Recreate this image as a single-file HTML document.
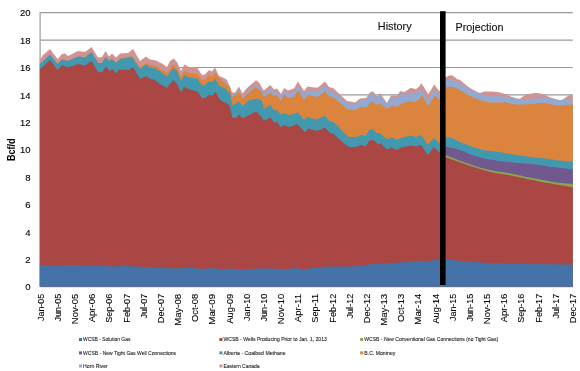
<!DOCTYPE html>
<html><head><meta charset="utf-8"><style>
html,body{margin:0;padding:0;background:#fff;width:580px;height:371px;overflow:hidden}
svg{display:block}
#wrap{will-change:transform;width:580px;height:371px}
text{font-family:"Liberation Sans",sans-serif;fill:#000}
.yl{font-size:9.7px;stroke:#000;stroke-width:0.12px}
.xl{font-size:9.3px;stroke:#000;stroke-width:0.1px}
.ax{font-size:10.2px;font-weight:bold}
.ann{font-size:10.2px;fill:#111;stroke:#111;stroke-width:0.12px}
.lg{font-size:5.3px;fill:#222;stroke:#222;stroke-width:0.1px}
</style></head><body><div id="wrap">
<svg width="580" height="371" viewBox="0 0 580 371">
<rect width="580" height="371" fill="#fff"/>
<line x1="40.7" y1="286.70" x2="572.8" y2="286.70" stroke="#999" stroke-width="1.2"/><line x1="40.7" y1="259.30" x2="572.8" y2="259.30" stroke="#999" stroke-width="1.2"/><line x1="40.7" y1="231.90" x2="572.8" y2="231.90" stroke="#999" stroke-width="1.2"/><line x1="40.7" y1="204.50" x2="572.8" y2="204.50" stroke="#999" stroke-width="1.2"/><line x1="40.7" y1="177.10" x2="572.8" y2="177.10" stroke="#999" stroke-width="1.2"/><line x1="40.7" y1="149.70" x2="572.8" y2="149.70" stroke="#999" stroke-width="1.2"/><line x1="40.7" y1="122.30" x2="572.8" y2="122.30" stroke="#999" stroke-width="1.2"/><line x1="40.7" y1="94.90" x2="572.8" y2="94.90" stroke="#999" stroke-width="1.2"/><line x1="40.7" y1="67.50" x2="572.8" y2="67.50" stroke="#999" stroke-width="1.2"/><line x1="40.7" y1="40.10" x2="572.8" y2="40.10" stroke="#999" stroke-width="1.2"/><line x1="40.7" y1="12.70" x2="572.8" y2="12.70" stroke="#999" stroke-width="1.2"/>
<line x1="40.1" y1="12.2" x2="40.1" y2="286.7" stroke="#9a9a9a" stroke-width="1.2"/>
<polygon points="39.9,286.7 39.9,58.6 40.7,58.6 43.0,55.0 50.0,49.0 57.6,59.0 62.0,54.0 65.0,53.6 68.0,56.0 78.0,51.0 85.0,52.0 91.6,47.0 98.0,57.6 102.0,57.0 105.6,51.0 109.0,56.4 112.0,53.6 116.0,57.6 120.0,53.6 128.0,53.0 133.0,49.0 140.0,61.0 146.0,56.4 150.0,59.6 156.0,60.4 162.0,63.6 167.0,67.0 170.0,61.0 173.6,58.4 177.0,62.0 181.0,71.0 184.4,64.4 189.0,67.0 197.0,67.6 202.0,75.0 205.0,74.4 209.0,70.0 212.0,71.6 215.0,67.6 219.0,76.0 224.0,78.0 227.0,80.0 232.0,92.4 235.0,92.4 239.0,86.4 242.4,93.6 247.0,88.0 256.0,80.2 259.0,82.4 263.6,90.4 270.4,85.0 274.0,89.6 277.0,88.4 281.0,94.0 284.0,88.0 288.0,90.4 294.0,88.4 298.0,81.6 304.0,91.0 307.6,86.4 314.0,87.6 318.0,87.6 325.0,81.6 329.0,87.0 333.0,88.0 340.0,94.4 347.0,101.0 350.0,101.6 355.0,102.4 360.0,98.6 366.2,98.1 369.8,92.4 372.9,91.2 377.1,96.6 380.2,93.2 386.9,103.0 391.0,95.5 397.2,95.5 400.3,90.9 404.5,91.9 410.7,87.8 415.9,89.3 419.5,86.2 421.3,83.1 428.3,94.2 434.2,84.5 439.1,91.0 443.0,88.0 443.0,286.7" fill="#D19392"/><polygon points="39.9,286.7 39.9,63.4 40.7,63.4 50.0,54.4 57.6,64.0 62.0,59.4 68.0,61.0 78.0,56.4 85.0,57.6 91.6,52.0 98.0,63.0 102.0,63.0 105.6,57.0 109.0,61.0 112.0,59.0 116.0,63.0 120.0,58.4 132.0,56.0 140.0,67.6 146.0,63.2 150.0,65.0 156.0,66.0 162.0,70.0 167.0,73.0 173.0,64.4 177.0,68.0 181.0,77.0 184.4,71.0 189.0,73.0 197.0,74.0 202.0,80.0 206.0,79.0 209.0,75.0 212.0,77.0 215.0,72.4 220.0,80.0 226.0,83.0 230.0,86.4 232.0,95.0 239.0,90.0 242.4,97.0 256.0,84.0 263.6,93.6 270.4,88.0 274.0,92.4 277.0,92.0 281.0,97.0 284.0,91.0 288.0,93.0 294.0,92.0 298.0,85.6 304.0,94.4 307.6,90.4 318.0,91.0 325.0,85.6 329.0,90.4 333.0,91.6 340.0,97.0 347.0,103.6 355.0,104.4 360.0,100.2 366.2,99.4 369.8,94.5 372.9,92.9 377.1,97.8 379.7,95.0 386.9,104.3 391.0,97.1 397.2,99.1 400.3,93.4 405.5,95.0 410.7,92.5 415.9,93.5 419.5,89.5 421.3,88.9 428.3,100.2 434.2,89.4 439.1,95.3 443.0,93.0 443.0,286.7" fill="#93A9CF"/><polygon points="39.9,286.7 39.9,63.4 40.7,63.4 50.0,54.4 57.6,64.0 62.0,59.4 68.0,61.0 78.0,56.4 85.0,57.6 91.6,52.0 98.0,63.0 102.0,63.0 105.6,57.0 109.0,61.0 112.0,59.0 116.0,63.0 120.0,58.4 132.0,56.0 140.0,67.6 146.0,63.2 150.0,65.0 156.0,66.0 162.0,70.0 167.0,73.0 173.0,64.4 177.0,68.0 181.0,77.0 184.4,71.0 189.0,73.0 197.0,74.0 202.0,80.0 206.0,79.0 209.0,75.0 212.0,77.0 215.0,72.6 222.0,81.0 230.0,87.0 232.4,97.5 239.0,91.5 242.4,98.5 256.0,86.7 262.0,92.4 263.6,97.0 270.4,92.4 274.0,96.0 277.0,95.6 281.0,101.0 284.0,94.4 288.0,98.0 294.0,97.0 298.0,90.4 304.0,100.0 307.6,95.0 318.0,97.0 325.0,91.0 329.0,96.4 333.0,97.0 340.0,102.4 347.0,109.0 355.0,110.4 360.0,107.1 366.2,107.7 371.9,101.2 376.6,105.0 380.2,103.3 387.4,109.0 393.1,104.8 396.7,107.1 401.4,103.6 409.7,101.2 415.9,102.2 420.0,98.1 421.9,95.3 428.3,106.6 434.8,95.6 439.1,99.6 443.0,99.0 443.0,286.7" fill="#DB843D"/><polygon points="39.9,286.7 39.9,63.4 40.7,63.4 50.0,54.4 57.6,64.0 62.0,59.4 68.0,61.0 78.0,56.4 85.0,57.6 91.6,52.0 98.0,63.0 102.0,63.0 105.6,57.0 109.0,61.0 112.0,59.0 116.0,63.0 120.0,59.0 132.0,57.0 140.0,69.0 146.0,64.5 150.0,67.5 156.0,68.5 162.0,73.0 167.0,76.5 173.0,68.0 177.0,71.0 181.0,81.0 184.4,75.0 189.0,77.5 197.0,78.5 202.0,85.6 206.0,84.4 209.0,81.0 212.0,82.4 215.0,78.4 219.0,85.5 226.0,89.0 228.0,92.0 230.0,93.0 232.4,105.7 239.0,101.5 242.4,106.2 248.6,100.5 257.0,98.4 262.0,100.5 263.6,109.0 270.4,105.0 274.0,110.4 277.0,110.0 281.0,115.0 284.0,112.7 288.0,115.0 294.0,114.0 298.0,112.2 304.0,120.0 307.6,117.0 316.0,119.8 325.0,115.8 329.0,121.0 333.0,121.8 338.0,126.0 344.0,133.0 349.0,137.0 356.0,137.0 361.0,135.0 365.6,136.0 369.0,130.0 373.0,129.0 377.0,133.6 380.0,133.0 387.0,139.6 392.0,137.0 397.0,140.0 401.0,138.0 411.0,135.6 416.0,137.0 421.0,135.0 428.0,145.0 434.0,138.0 439.0,143.0 443.0,141.0 443.0,286.7" fill="#4198AF"/><polygon points="39.9,286.7 39.9,68.7 40.7,68.7 50.0,60.0 57.6,70.0 62.0,65.0 68.0,67.6 78.0,64.0 85.0,65.6 91.6,61.0 98.0,72.0 102.0,72.4 105.6,66.4 110.0,71.0 112.0,69.0 116.0,73.6 119.0,69.6 129.0,70.0 133.0,67.0 140.0,79.0 146.0,76.2 152.0,79.5 154.0,79.6 160.0,84.0 167.0,88.0 173.0,80.0 177.0,84.0 181.0,92.4 184.0,87.0 189.0,89.0 198.0,92.0 202.0,98.4 206.0,97.6 209.6,94.4 212.0,96.0 215.6,92.0 220.0,100.0 226.0,103.0 228.0,104.0 229.6,106.0 232.4,118.0 237.0,117.6 239.0,114.4 243.0,118.4 250.0,114.4 256.0,111.5 262.0,117.6 263.6,121.0 270.4,117.6 274.0,122.4 277.0,122.0 281.0,127.6 284.0,125.0 289.0,127.0 293.0,126.0 297.0,124.0 305.0,132.0 308.4,128.4 317.0,131.0 325.0,127.6 330.0,133.0 333.0,133.6 338.0,138.0 344.0,143.6 349.0,147.0 356.0,147.0 361.0,145.0 365.6,146.4 370.0,140.0 374.0,140.4 378.0,144.0 381.0,143.6 387.0,149.6 392.0,147.6 397.0,150.0 401.0,147.6 411.0,145.6 416.0,146.4 421.0,145.0 428.0,155.0 434.0,147.0 439.0,152.4 443.0,150.0 443.0,286.7" fill="#AA4643"/><polygon points="443.0,286.7 443.0,77.0 443.4,77.0 443.9,77.0 444.5,77.0 445.1,77.1 445.6,77.0 446.1,77.0 446.4,76.9 446.6,76.8 446.8,76.7 447.0,76.5 447.3,76.4 447.6,76.2 448.1,76.0 448.7,75.8 449.3,75.6 449.9,75.4 450.6,75.2 451.1,75.2 451.6,75.2 451.9,75.4 452.3,75.5 452.7,75.7 453.0,76.0 453.5,76.3 454.0,76.7 454.6,77.1 455.2,77.6 455.8,78.1 456.4,78.5 457.0,78.9 457.6,79.2 458.1,79.4 458.7,79.6 459.3,79.8 459.9,80.1 460.6,80.5 461.3,81.0 462.0,81.7 462.8,82.3 463.6,83.1 464.5,83.8 465.4,84.6 466.5,85.4 467.6,86.2 468.8,87.0 470.0,87.9 471.3,88.7 472.5,89.4 473.7,90.1 475.0,90.8 476.2,91.5 477.4,92.1 478.6,92.6 479.6,92.9 480.5,92.9 481.3,92.7 482.0,92.4 482.6,92.0 483.4,91.7 484.3,91.5 485.3,91.4 486.5,91.4 487.7,91.4 488.9,91.4 490.2,91.4 491.4,91.5 492.6,91.6 493.9,91.7 495.1,91.8 496.4,92.0 497.5,92.1 498.6,92.3 499.6,92.5 500.4,92.7 501.2,92.9 502.0,93.1 502.7,93.3 503.3,93.5 503.8,93.7 504.2,93.8 504.6,93.9 504.9,94.1 505.4,94.3 506.0,94.5 506.8,94.8 507.7,95.2 508.7,95.6 509.8,96.1 510.9,96.5 512.0,96.9 513.2,97.3 514.4,97.7 515.6,98.2 516.9,98.5 518.1,98.7 519.3,98.7 520.3,98.4 521.3,97.8 522.1,97.1 523.1,96.4 524.1,95.7 525.3,95.1 526.7,94.6 528.4,94.2 530.1,93.8 531.8,93.4 533.5,93.2 535.0,93.0 536.4,93.0 537.7,93.0 538.9,93.2 540.1,93.4 541.2,93.6 542.2,93.9 543.1,94.2 543.9,94.5 544.6,94.8 545.3,95.2 546.1,95.6 547.0,96.0 548.1,96.4 549.3,96.9 550.5,97.4 551.8,97.9 553.1,98.3 554.3,98.7 555.5,99.0 556.8,99.4 558.1,99.7 559.3,99.9 560.4,100.0 561.5,99.9 562.5,99.6 563.3,99.2 564.1,98.6 564.9,98.0 565.6,97.4 566.3,96.9 567.0,96.5 567.6,96.2 568.3,95.8 568.9,95.6 569.4,95.3 570.0,95.1 570.6,94.9 571.1,94.8 571.6,94.8 572.1,94.8 572.5,94.7 572.8,94.7 572.8,286.7" fill="#D19392"/><polygon points="443.0,286.7 443.0,80.5 443.3,80.5 443.8,80.5 444.4,80.5 445.0,80.5 445.6,80.5 446.1,80.5 446.6,80.4 447.0,80.3 447.4,80.2 447.9,80.1 448.3,80.0 448.7,79.9 449.1,79.8 449.4,79.7 449.8,79.6 450.1,79.6 450.6,79.5 451.1,79.6 451.8,79.7 452.5,79.9 453.4,80.1 454.2,80.4 455.1,80.7 455.9,81.0 456.7,81.4 457.4,81.8 458.1,82.3 458.9,82.9 459.7,83.4 460.6,84.0 461.6,84.6 462.8,85.3 464.0,86.1 465.2,86.8 466.5,87.5 467.7,88.2 468.9,88.8 470.2,89.5 471.4,90.1 472.6,90.7 473.7,91.2 474.8,91.7 475.7,92.1 476.5,92.4 477.3,92.7 478.0,92.9 478.8,93.2 479.6,93.5 480.5,93.8 481.5,94.2 482.5,94.6 483.5,94.9 484.5,95.2 485.5,95.5 486.5,95.7 487.5,95.9 488.4,96.0 489.4,96.1 490.4,96.1 491.4,96.2 492.4,96.2 493.4,96.2 494.4,96.2 495.4,96.2 496.4,96.2 497.4,96.2 498.4,96.2 499.5,96.2 500.6,96.3 501.6,96.3 502.5,96.4 503.3,96.4 503.9,96.4 504.3,96.5 504.6,96.5 504.9,96.5 505.3,96.6 506.0,96.7 506.9,96.8 508.1,97.0 509.3,97.2 510.6,97.5 511.9,97.7 513.2,97.9 514.4,98.1 515.5,98.4 516.7,98.6 517.9,98.8 519.1,99.0 520.5,99.1 521.9,99.1 523.4,99.1 525.0,99.0 526.6,98.9 528.3,98.8 530.1,98.7 532.1,98.6 534.2,98.4 536.5,98.3 538.6,98.1 540.6,98.0 542.2,97.9 543.4,97.9 544.2,97.8 544.9,97.9 545.5,97.9 546.1,98.0 547.0,98.1 548.1,98.3 549.3,98.5 550.5,98.8 551.8,99.1 553.1,99.4 554.3,99.6 555.5,99.7 556.6,99.8 557.6,99.9 558.8,99.9 560.1,99.9 561.5,99.9 563.3,99.8 565.4,99.7 567.6,99.5 569.7,99.3 571.5,99.2 572.8,99.1 572.8,286.7" fill="#93A9CF"/><polygon points="443.0,286.7 443.0,87.5 443.3,87.5 443.8,87.5 444.3,87.5 444.9,87.6 445.5,87.5 446.1,87.5 446.7,87.4 447.3,87.2 448.0,87.1 448.6,86.9 449.3,86.8 449.9,86.7 450.5,86.7 451.1,86.7 451.6,86.8 452.2,86.9 452.8,87.0 453.5,87.2 454.2,87.5 455.0,87.8 455.8,88.2 456.6,88.6 457.4,89.0 458.2,89.4 459.0,89.8 459.8,90.1 460.6,90.5 461.4,90.9 462.2,91.3 463.0,91.7 463.8,92.2 464.5,92.6 465.3,93.2 466.0,93.7 466.8,94.2 467.7,94.7 468.6,95.2 469.6,95.7 470.6,96.2 471.7,96.8 472.7,97.2 473.7,97.7 474.7,98.1 475.7,98.5 476.7,98.9 477.6,99.3 478.6,99.7 479.6,100.0 480.6,100.3 481.6,100.7 482.6,101.0 483.5,101.3 484.5,101.6 485.5,101.8 486.5,102.0 487.5,102.2 488.4,102.3 489.4,102.4 490.4,102.5 491.4,102.6 492.4,102.6 493.4,102.7 494.5,102.7 495.5,102.6 496.5,102.6 497.4,102.6 498.3,102.6 499.1,102.5 499.9,102.5 500.6,102.5 501.4,102.4 502.1,102.4 502.8,102.4 503.3,102.4 503.9,102.3 504.5,102.3 505.2,102.4 506.0,102.5 507.0,102.7 508.2,103.0 509.4,103.3 510.7,103.6 512.0,103.9 513.2,104.1 514.4,104.3 515.5,104.4 516.7,104.5 517.9,104.6 519.1,104.7 520.5,104.7 521.9,104.7 523.4,104.6 525.0,104.5 526.6,104.4 528.3,104.2 530.1,104.1 532.1,103.9 534.2,103.7 536.5,103.4 538.6,103.2 540.6,103.0 542.2,102.9 543.4,102.9 544.2,102.9 544.9,103.0 545.5,103.2 546.1,103.3 547.0,103.5 548.1,103.7 549.3,104.0 550.5,104.3 551.8,104.6 553.1,104.9 554.3,105.1 555.5,105.2 556.6,105.3 557.6,105.4 558.8,105.4 560.1,105.4 561.5,105.3 563.3,105.2 565.4,105.0 567.6,104.7 569.7,104.5 571.5,104.2 572.8,104.1 572.8,286.7" fill="#DB843D"/><polygon points="443.0,286.7 443.0,137.3 443.2,137.3 443.5,137.3 443.9,137.3 444.4,137.2 444.9,137.3 445.6,137.3 446.4,137.4 447.4,137.4 448.5,137.5 449.6,137.6 450.8,137.8 452.0,138.1 453.3,138.6 454.6,139.2 456.0,140.0 457.4,140.7 458.8,141.4 460.2,142.1 461.6,142.7 462.9,143.2 464.3,143.7 465.6,144.2 467.0,144.7 468.3,145.2 469.7,145.7 471.0,146.2 472.4,146.7 473.7,147.1 475.1,147.6 476.4,148.0 477.7,148.4 478.9,148.8 480.1,149.2 481.4,149.5 482.9,149.9 484.5,150.2 486.4,150.5 488.5,150.8 490.8,151.0 493.1,151.3 495.3,151.5 497.4,151.8 499.2,152.1 500.9,152.4 502.5,152.6 504.1,152.9 505.9,153.3 508.0,153.6 510.4,154.0 513.0,154.4 515.8,154.9 518.6,155.4 521.4,155.8 524.2,156.2 527.0,156.6 529.8,156.9 532.7,157.2 535.5,157.6 538.1,157.8 540.4,158.1 542.4,158.3 544.2,158.5 545.9,158.6 547.4,158.8 548.7,158.9 550.1,159.1 551.2,159.3 552.1,159.4 552.9,159.6 553.8,159.8 554.9,160.0 556.5,160.2 558.8,160.5 561.8,160.8 565.0,161.1 568.2,161.4 570.9,161.6 572.8,161.8 572.8,286.7" fill="#4198AF"/><polygon points="443.0,286.7 443.0,146.5 443.1,146.5 443.2,146.4 443.4,146.3 443.7,146.2 444.4,146.3 445.6,146.5 447.3,146.9 449.5,147.4 452.1,148.0 454.8,148.6 457.5,149.4 460.2,150.2 462.8,151.1 465.5,152.2 468.2,153.4 470.9,154.5 473.7,155.6 476.4,156.5 479.1,157.2 481.8,157.9 484.5,158.5 487.2,159.0 489.9,159.4 492.5,159.9 495.1,160.3 497.7,160.7 500.2,161.1 502.8,161.4 505.4,161.7 508.0,162.0 510.7,162.3 513.3,162.5 516.1,162.8 518.8,163.0 521.5,163.3 524.2,163.5 527.0,163.8 529.8,164.0 532.7,164.3 535.5,164.6 538.1,164.8 540.4,165.1 542.4,165.4 544.2,165.7 545.9,165.9 547.4,166.2 548.7,166.5 550.1,166.7 551.2,166.9 552.1,167.0 552.9,167.1 553.8,167.2 554.9,167.3 556.5,167.5 558.8,167.8 561.8,168.1 565.0,168.5 568.2,168.9 570.9,169.2 572.8,169.4 572.8,286.7" fill="#71588F"/><polygon points="443.0,286.7 443.0,155.1 443.1,155.0 443.2,154.9 443.4,154.7 443.7,154.7 444.4,154.8 445.6,155.1 447.3,155.7 449.5,156.5 452.1,157.5 454.8,158.6 457.5,159.7 460.2,160.7 462.8,161.7 465.5,162.7 468.2,163.6 470.9,164.6 473.7,165.5 476.4,166.4 479.1,167.2 481.8,167.9 484.5,168.7 487.2,169.3 489.9,169.9 492.5,170.5 495.1,171.0 497.7,171.4 500.2,171.7 502.8,172.1 505.4,172.5 508.0,172.9 510.7,173.4 513.3,174.0 516.1,174.6 518.8,175.2 521.5,175.8 524.2,176.4 526.9,177.0 529.6,177.5 532.3,178.0 535.0,178.6 537.7,179.1 540.4,179.6 543.1,180.1 545.8,180.6 548.4,181.1 551.1,181.6 553.8,182.0 556.5,182.4 559.4,182.8 562.5,183.1 565.7,183.4 568.6,183.6 571.0,183.8 572.8,184.0 572.8,286.7" fill="#89A54E"/><polygon points="443.0,286.7 443.0,157.2 443.1,157.1 443.2,157.0 443.4,156.9 443.7,156.8 444.4,156.9 445.6,157.2 447.3,157.8 449.5,158.5 452.1,159.4 454.8,160.4 457.5,161.4 460.2,162.4 462.8,163.3 465.5,164.3 468.2,165.3 470.9,166.2 473.7,167.1 476.4,168.0 479.1,168.8 481.8,169.6 484.5,170.4 487.2,171.1 489.9,171.8 492.5,172.4 495.1,172.9 497.7,173.4 500.2,173.8 502.8,174.1 505.4,174.5 508.0,175.0 510.7,175.5 513.3,176.0 516.1,176.6 518.8,177.2 521.5,177.7 524.2,178.3 526.9,178.9 529.6,179.4 532.3,180.0 535.0,180.6 537.7,181.2 540.4,181.7 543.1,182.2 545.8,182.7 548.4,183.1 551.1,183.6 553.8,184.0 556.5,184.5 559.4,185.0 562.5,185.5 565.7,186.0 568.6,186.5 571.0,186.9 572.8,187.2 572.8,286.7" fill="#AA4643"/><polygon points="39.9,286.7 39.9,265.0 40.7,265.0 56.0,265.6 66.0,265.0 76.0,265.0 96.0,266.0 104.0,265.2 108.0,266.4 126.0,266.0 146.0,267.0 156.0,267.6 176.0,268.4 190.0,267.6 202.0,269.0 214.0,268.0 220.0,269.4 228.0,268.4 244.0,269.6 256.0,268.4 270.0,268.4 286.0,269.0 297.0,268.0 302.0,269.4 316.0,267.6 326.0,266.4 352.0,266.4 362.0,265.6 374.0,264.0 392.0,263.0 406.0,262.0 421.0,260.4 426.0,262.0 435.0,259.6 440.0,260.0 446.0,259.6 462.0,261.0 482.0,262.4 488.0,263.0 524.0,264.0 572.8,264.6 572.8,286.7" fill="#4572A7"/>
<rect x="440" y="11.2" width="5.6" height="273.8" fill="#000"/>
<text x="377.8" y="29.8" class="ann" textLength="33.8" lengthAdjust="spacingAndGlyphs">History</text>
<text x="455.5" y="30.6" class="ann" textLength="47.9" lengthAdjust="spacingAndGlyphs">Projection</text>
<text x="30.6" y="290.40" text-anchor="end" class="yl" textLength="5.3" lengthAdjust="spacingAndGlyphs">0</text><text x="30.6" y="263.00" text-anchor="end" class="yl" textLength="5.3" lengthAdjust="spacingAndGlyphs">2</text><text x="30.6" y="235.60" text-anchor="end" class="yl" textLength="5.3" lengthAdjust="spacingAndGlyphs">4</text><text x="30.6" y="208.20" text-anchor="end" class="yl" textLength="5.3" lengthAdjust="spacingAndGlyphs">6</text><text x="30.6" y="180.80" text-anchor="end" class="yl" textLength="5.3" lengthAdjust="spacingAndGlyphs">8</text><text x="30.6" y="153.40" text-anchor="end" class="yl" textLength="10.5" lengthAdjust="spacingAndGlyphs">10</text><text x="30.6" y="126.00" text-anchor="end" class="yl" textLength="10.5" lengthAdjust="spacingAndGlyphs">12</text><text x="30.6" y="98.60" text-anchor="end" class="yl" textLength="10.5" lengthAdjust="spacingAndGlyphs">14</text><text x="30.6" y="71.20" text-anchor="end" class="yl" textLength="10.5" lengthAdjust="spacingAndGlyphs">16</text><text x="30.6" y="43.80" text-anchor="end" class="yl" textLength="10.5" lengthAdjust="spacingAndGlyphs">18</text><text x="30.6" y="16.40" text-anchor="end" class="yl" textLength="10.5" lengthAdjust="spacingAndGlyphs">20</text>
<text transform="translate(14.9,149.8) rotate(-90)" text-anchor="middle" class="ax" textLength="22.6" lengthAdjust="spacingAndGlyphs">Bcf/d</text>
<text transform="translate(43.80,293.8) rotate(-90)" text-anchor="end" class="xl" textLength="27.22" lengthAdjust="spacingAndGlyphs">Jan-05</text><text transform="translate(60.96,293.8) rotate(-90)" text-anchor="end" class="xl" textLength="27.70" lengthAdjust="spacingAndGlyphs">Jun-05</text><text transform="translate(78.13,293.8) rotate(-90)" text-anchor="end" class="xl" textLength="30.33" lengthAdjust="spacingAndGlyphs">Nov-05</text><text transform="translate(95.29,293.8) rotate(-90)" text-anchor="end" class="xl" textLength="28.56" lengthAdjust="spacingAndGlyphs">Apr-06</text><text transform="translate(112.46,293.8) rotate(-90)" text-anchor="end" class="xl" textLength="28.86" lengthAdjust="spacingAndGlyphs">Sep-06</text><text transform="translate(129.62,293.8) rotate(-90)" text-anchor="end" class="xl" textLength="28.86" lengthAdjust="spacingAndGlyphs">Feb-07</text><text transform="translate(146.79,293.8) rotate(-90)" text-anchor="end" class="xl" textLength="24.65" lengthAdjust="spacingAndGlyphs">Jul-07</text><text transform="translate(163.95,293.8) rotate(-90)" text-anchor="end" class="xl" textLength="29.42" lengthAdjust="spacingAndGlyphs">Dec-07</text><text transform="translate(181.12,293.8) rotate(-90)" text-anchor="end" class="xl" textLength="32.00" lengthAdjust="spacingAndGlyphs">May-08</text><text transform="translate(198.28,293.8) rotate(-90)" text-anchor="end" class="xl" textLength="28.22" lengthAdjust="spacingAndGlyphs">Oct-08</text><text transform="translate(215.45,293.8) rotate(-90)" text-anchor="end" class="xl" textLength="30.93" lengthAdjust="spacingAndGlyphs">Mar-09</text><text transform="translate(232.61,293.8) rotate(-90)" text-anchor="end" class="xl" textLength="29.82" lengthAdjust="spacingAndGlyphs">Aug-09</text><text transform="translate(249.77,293.8) rotate(-90)" text-anchor="end" class="xl" textLength="27.22" lengthAdjust="spacingAndGlyphs">Jan-10</text><text transform="translate(266.94,293.8) rotate(-90)" text-anchor="end" class="xl" textLength="27.70" lengthAdjust="spacingAndGlyphs">Jun-10</text><text transform="translate(284.10,293.8) rotate(-90)" text-anchor="end" class="xl" textLength="30.33" lengthAdjust="spacingAndGlyphs">Nov-10</text><text transform="translate(301.27,293.8) rotate(-90)" text-anchor="end" class="xl" textLength="28.56" lengthAdjust="spacingAndGlyphs">Apr-11</text><text transform="translate(318.43,293.8) rotate(-90)" text-anchor="end" class="xl" textLength="28.86" lengthAdjust="spacingAndGlyphs">Sep-11</text><text transform="translate(335.60,293.8) rotate(-90)" text-anchor="end" class="xl" textLength="28.86" lengthAdjust="spacingAndGlyphs">Feb-12</text><text transform="translate(352.76,293.8) rotate(-90)" text-anchor="end" class="xl" textLength="24.65" lengthAdjust="spacingAndGlyphs">Jul-12</text><text transform="translate(369.93,293.8) rotate(-90)" text-anchor="end" class="xl" textLength="29.42" lengthAdjust="spacingAndGlyphs">Dec-12</text><text transform="translate(387.09,293.8) rotate(-90)" text-anchor="end" class="xl" textLength="32.00" lengthAdjust="spacingAndGlyphs">May-13</text><text transform="translate(404.25,293.8) rotate(-90)" text-anchor="end" class="xl" textLength="28.22" lengthAdjust="spacingAndGlyphs">Oct-13</text><text transform="translate(421.42,293.8) rotate(-90)" text-anchor="end" class="xl" textLength="30.93" lengthAdjust="spacingAndGlyphs">Mar-14</text><text transform="translate(438.58,293.8) rotate(-90)" text-anchor="end" class="xl" textLength="29.82" lengthAdjust="spacingAndGlyphs">Aug-14</text><text transform="translate(455.75,293.8) rotate(-90)" text-anchor="end" class="xl" textLength="27.22" lengthAdjust="spacingAndGlyphs">Jan-15</text><text transform="translate(472.91,293.8) rotate(-90)" text-anchor="end" class="xl" textLength="27.70" lengthAdjust="spacingAndGlyphs">Jun-15</text><text transform="translate(490.08,293.8) rotate(-90)" text-anchor="end" class="xl" textLength="30.33" lengthAdjust="spacingAndGlyphs">Nov-15</text><text transform="translate(507.24,293.8) rotate(-90)" text-anchor="end" class="xl" textLength="28.56" lengthAdjust="spacingAndGlyphs">Apr-16</text><text transform="translate(524.41,293.8) rotate(-90)" text-anchor="end" class="xl" textLength="28.86" lengthAdjust="spacingAndGlyphs">Sep-16</text><text transform="translate(541.57,293.8) rotate(-90)" text-anchor="end" class="xl" textLength="28.86" lengthAdjust="spacingAndGlyphs">Feb-17</text><text transform="translate(558.74,293.8) rotate(-90)" text-anchor="end" class="xl" textLength="24.65" lengthAdjust="spacingAndGlyphs">Jul-17</text><text transform="translate(575.90,293.8) rotate(-90)" text-anchor="end" class="xl" textLength="29.42" lengthAdjust="spacingAndGlyphs">Dec-17</text>
<rect x="79.0" y="338.0" width="3" height="3" fill="#4572A7"/><text x="83.1" y="341.2" class="lg" textLength="47.3" lengthAdjust="spacingAndGlyphs">WCSB - Solution Gas</text><rect x="219.4" y="338.0" width="3" height="3" fill="#AA4643"/><text x="223.5" y="341.2" class="lg" textLength="103.3" lengthAdjust="spacingAndGlyphs">WCSB - Wells Producing Prior to Jan. 1, 2013</text><rect x="360.2" y="338.0" width="3" height="3" fill="#89A54E"/><text x="364.3" y="341.2" class="lg" textLength="133.8" lengthAdjust="spacingAndGlyphs">WCSB - New Conventional Gas Connections (no Tight Gas)</text><rect x="79.0" y="351.4" width="3" height="3" fill="#71588F"/><text x="83.1" y="354.6" class="lg" textLength="93.0" lengthAdjust="spacingAndGlyphs">WCSB - New Tight Gas Well Connections</text><rect x="219.4" y="351.4" width="3" height="3" fill="#4198AF"/><text x="223.5" y="354.6" class="lg" textLength="62.1" lengthAdjust="spacingAndGlyphs">Alberta - Coalbed Methane</text><rect x="360.2" y="351.4" width="3" height="3" fill="#DB843D"/><text x="364.3" y="354.6" class="lg" textLength="31.1" lengthAdjust="spacingAndGlyphs">B.C. Montney</text><rect x="79.0" y="364.5" width="3" height="3" fill="#93A9CF"/><text x="83.1" y="367.7" class="lg" textLength="24.7" lengthAdjust="spacingAndGlyphs">Horn River</text><rect x="219.4" y="364.5" width="3" height="3" fill="#D19392"/><text x="223.5" y="367.7" class="lg" textLength="36.0" lengthAdjust="spacingAndGlyphs">Eastern Canada</text>
</svg>
</div></body></html>
